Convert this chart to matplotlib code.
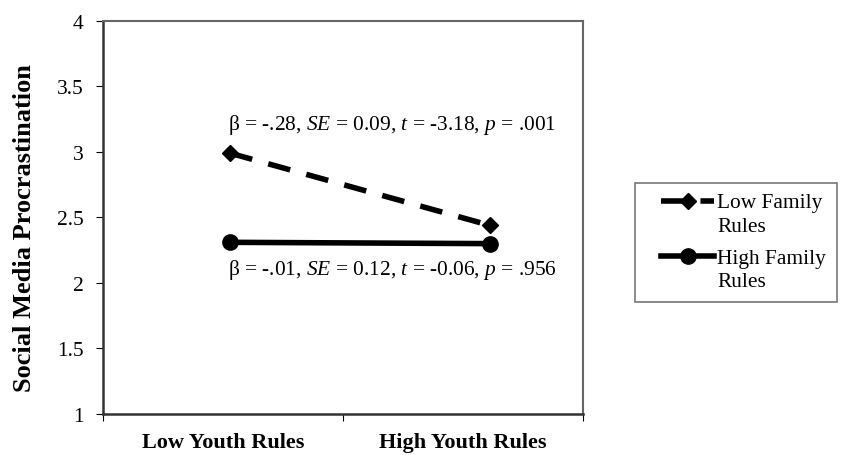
import matplotlib
matplotlib.use('Agg')
import matplotlib.pyplot as plt
from matplotlib.legend_handler import HandlerLine2D

plt.rcParams['font.family'] = ['Liberation Serif', 'DejaVu Serif']
plt.rcParams['mathtext.fontset'] = 'custom'
plt.rcParams['mathtext.rm'] = 'Liberation Serif'
plt.rcParams['mathtext.it'] = 'Liberation Serif:italic'

youth_rules = ['Low Youth Rules', 'High Youth Rules']
low_family = [2.99, 2.44]
high_family = [2.31, 2.30]
series_names = ['Low Family\nRules', 'High Family\nRules']
y_ticks = [1, 1.5, 2, 2.5, 3, 3.5, 4]
y_tick_labels = ['1', '1.5', '2', '2.5', '3', '3.5', '4']
note_low = r'β = -.28, $SE$ = 0.09, $t$ = -3.18, $p$ = .001'
note_high = r'β = -.01, $SE$ = 0.12, $t$ = -0.06, $p$ = .956'


class FirstLineHandler(HandlerLine2D):
    # legend line level with the first text line and indented, like Excel does
    def create_artists(self, legend, orig_handle, xdescent, ydescent,
                       width, height, fontsize, trans):
        indent = 0.75 * fontsize
        return super().create_artists(legend, orig_handle, xdescent - indent,
                                      ydescent - 1.25 * fontsize, width - indent,
                                      height, fontsize, trans)


fig = plt.figure(figsize=(8.44, 4.56), dpi=100, facecolor='white')
ax = fig.add_axes([0.122, 0.090, 0.569, 0.862])

# points sit a little right of the category centres in the original
x_shift = [0.03, 0.11]
xs = [i + 0.5 + x_shift[i] for i in range(len(youth_rules))]

l1, = ax.plot(xs, low_family, color='black', lw=4, dashes=(4.1, 3.0),
              marker='D', markersize=8, label=series_names[0])
l2, = ax.plot(xs, high_family, color='black', lw=4,
              marker='o', markersize=11, label=series_names[1])

ax.set_xlim(0, 2)
ax.set_ylim(1, 4)
ax.set_yticks(y_ticks)
ax.set_yticklabels(y_tick_labels, fontsize=15.5)
ax.set_xticks([0, 1, 2])
ax.set_xticklabels([])
ax.set_xticks([0.5, 1.5], minor=True)
ax.set_xticklabels(youth_rules, minor=True, fontsize=16, fontweight='bold')
ax.tick_params(axis='x', which='minor', length=0, pad=13)
ax.tick_params(axis='x', which='major', length=5, direction='out')
ax.tick_params(axis='y', length=5, direction='out', pad=9)

ax.set_ylabel('Social Media Procrastination', fontsize=19, fontweight='bold')
ax.yaxis.set_label_coords(-0.14, 0.476)

for side in ['top', 'right']:
    ax.spines[side].set_color('#666666')
    ax.spines[side].set_linewidth(1.5)
for side in ['left', 'bottom']:
    ax.spines[side].set_color('#333333')
    ax.spines[side].set_linewidth(1.8)

ax.text(0.52, 3.21, note_low, fontsize=15.4, ha='left', va='center')
ax.text(0.52, 2.11, note_high, fontsize=15.4, ha='left', va='center')

leg = fig.legend(handles=[l1, l2], loc='upper left', bbox_to_anchor=(0.752, 0.597),
                 fontsize=15.4, frameon=True, fancybox=False, edgecolor='#555555',
                 handlelength=3.2, handletextpad=0.15, borderpad=0.5,
                 labelspacing=0.62, borderaxespad=0,
                 handler_map={l1: FirstLineHandler(), l2: FirstLineHandler()})
for t in leg.get_texts():
    t.set_linespacing(1.3)
leg.get_frame().set_linewidth(1.2)

fig.savefig('out.png', dpi=100)
